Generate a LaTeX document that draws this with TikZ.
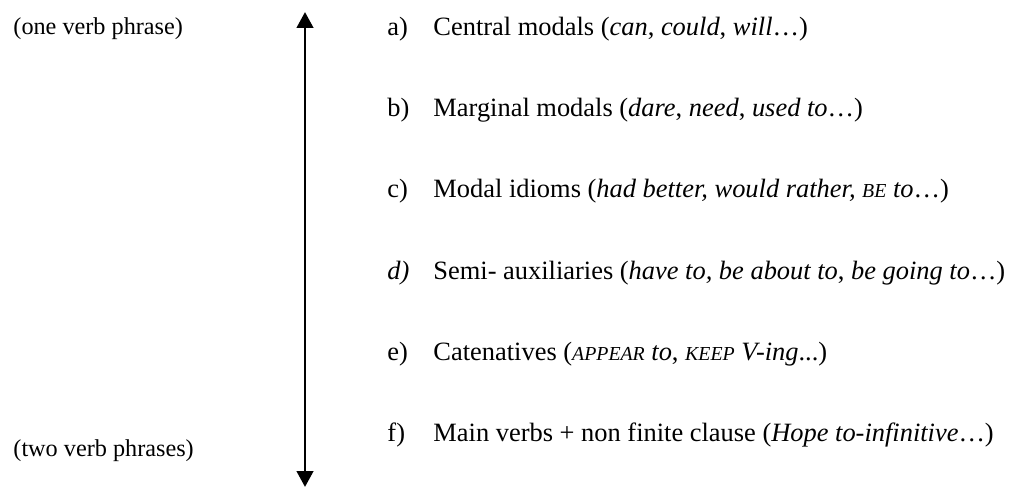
\documentclass[tikz,border=0pt]{standalone}
\usepackage{fontspec}
\setmainfont{Liberation Serif}
\usepackage{tikz}
\usetikzlibrary{arrows.meta, positioning}

\newcommand{\vcap}[1]{{\itshape\fontsize{9}{10}\selectfont #1}}

\begin{document}
\begin{tikzpicture}[
    x=0.454pt, y=-0.454pt,
    % --- node styles ---
    side/.style={anchor=base west, inner sep=0pt, font=\fontsize{11}{13}\selectfont},
    tag/.style={anchor=base west, inner sep=0pt, font=\fontsize{12}{14}\selectfont},
    item/.style={anchor=base west, inner sep=0pt, font=\fontsize{12}{14}\selectfont},
    % --- arrow style ---
    arr/.style={{Triangle[length=7.2pt, width=7.4pt]}-{Triangle[length=7.2pt, width=7.4pt]}, line width=1.35pt}
]
\useasboundingbox (0,0) rectangle (1011,488);

%%% ================= LEFT: SCALE ENDS =================
\node (one) [side] at (13,35) {(one verb phrase)};
\node (two) [side] at (13,456) {(two verb phrases)};

%%% ================= SCALE ARROW =================
\coordinate (scaletop) at (305,12);
\coordinate (scalebot) at (305,487);
\draw [arr] (scaletop) -- (scalebot);

%%% ================= RIGHT: CATEGORIES =================
\node (tag_a) [tag] at (387,36) {a)};
\node (item_a) [item] at (433,36)
    {Central modals (\textit{can}, \textit{could}, \textit{will}\dots)};

\node (tag_b) [tag] at (387,117) {b)};
\node (item_b) [item] at (433,117)
    {Marginal modals (\textit{dare}, \textit{need}, \textit{used to}\dots)};

\node (tag_c) [tag] at (387,198) {c)};
\node (item_c) [item] at (433,198)
    {Modal idioms (\textit{had better, would rather,} \vcap{BE} \textit{to}\dots)};

\node (tag_d) [tag] at (387,279) {\textit{d)}};
\node (item_d) [item] at (433,279)
    {Semi- auxiliaries (\textit{have to, be about to}, \textit{be going to}\dots)};

\node (tag_e) [tag] at (387,360) {e)};
\node (item_e) [item] at (433,360)
    {Catenatives (\vcap{APPEAR} \textit{to}, \vcap{KEEP} \textit{V-ing}...)};

\node (tag_f) [tag] at (387,441) {f)};
\node (item_f) [item] at (433,441)
    {Main verbs + non finite clause (\textit{Hope to-infinitive}\dots)};

\end{tikzpicture}
\end{document}
